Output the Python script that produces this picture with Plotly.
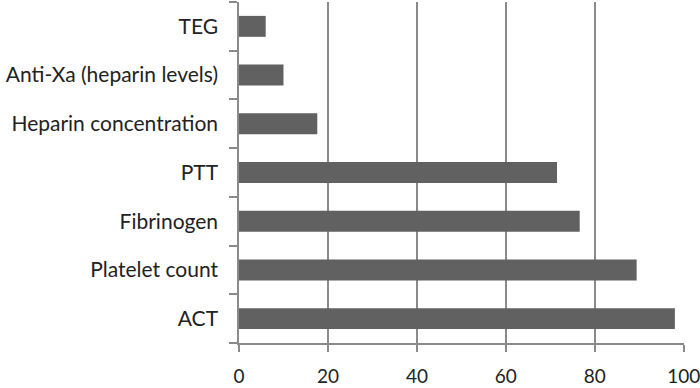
import plotly.graph_objects as go

categories = ["ACT", "Platelet count", "Fibrinogen", "PTT",
              "Heparin concentration", "Anti-Xa (heparin levels)", "TEG"]
values = [98.0, 89.4, 76.6, 71.5, 17.6, 10.0, 6.0]
x_ticks = [0, 20, 40, 60, 80, 100]

fig = go.Figure(go.Bar(
    x=values, y=categories, orientation="h",
    marker=dict(color="#616161", line=dict(width=0)),
    width=0.43, hoverinfo="x+y",
))

axis_color = "#8a8a8a"
fig.update_layout(
    width=700, height=388,
    margin=dict(l=239, r=16, t=2, b=45, autoexpand=False),
    paper_bgcolor="white", plot_bgcolor="white",
    font=dict(family="Lato, 'Open Sans', sans-serif", size=20, color="#222222"),
    showlegend=False,
)
fig.update_xaxes(
    range=[0, 100.05], tickvals=x_ticks,
    showgrid=True, gridcolor=axis_color, gridwidth=1.5,
    showline=True, linecolor=axis_color, linewidth=1.5,
    ticks="outside", ticklen=7, tickcolor=axis_color, tickwidth=1.5,
    zeroline=False, ticklabelstandoff=8, ticklabeloverflow="allow",
    tickfont=dict(size=19),
)
fig.update_yaxes(
    categoryorder="array", categoryarray=categories,
    range=[-0.5, 6.5],
    showline=True, linecolor=axis_color, linewidth=1.5,
    ticks="outside", ticklen=8, tickcolor=axis_color, tickwidth=1.5,
    tickson="boundaries", showgrid=False, ticklabelstandoff=15,
    tickfont=dict(size=21),
)

fig.write_html("out.html", config={"displayModeBar": False},
               post_script="document.body.style.margin='0';document.body.style.padding='0';")
